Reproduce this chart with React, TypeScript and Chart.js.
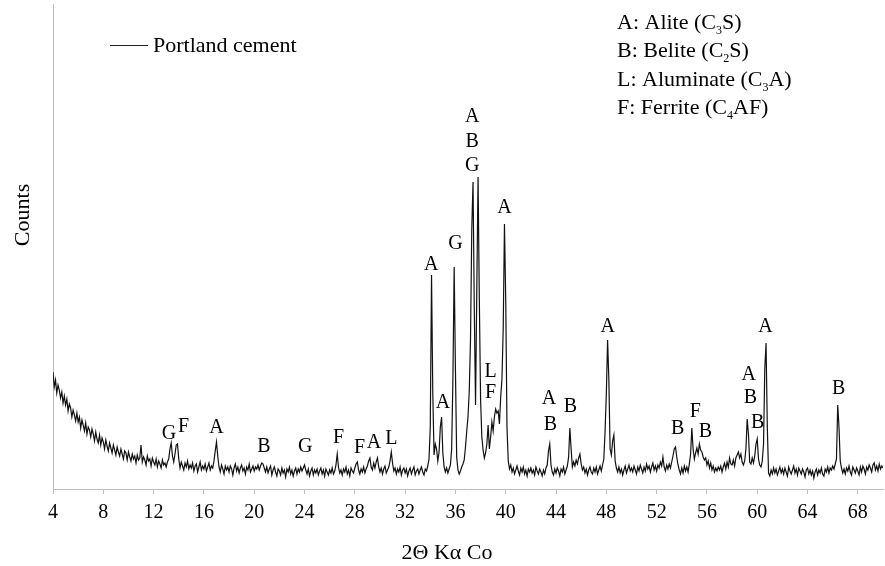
import React, { useEffect, useRef } from "react";
import { Chart, registerables } from "chart.js";

Chart.register(...registerables);

// Diffraction pattern sampled every 0.1° from 4° to 70° (2θ, Co Kα)
const ANGLE_START = 4;
const ANGLE_STEP = 0.1;

const COUNTS: number[] = [
  117, 102, 109, 96, 104, 99, 91, 97, 86, 93, // 4
  84, 90, 78, 85, 81, 72, 79, 74, 68, 76, // 5
  67, 72, 61, 69, 64, 58, 66, 55, 62, 59, // 6
  52, 60, 55, 48, 57, 50, 46, 54, 44, 51, // 7
  47, 40, 49, 43, 38, 46, 41, 36, 44, 39, // 8
  34, 42, 37, 33, 40, 35, 30, 38, 36, 29, // 9
  37, 32, 28, 35, 30, 33, 26, 34, 29, 31, // 10
  44, 27, 32, 29, 24, 33, 28, 30, 23, 31, // 11
  27, 24, 30, 22, 28, 25, 21, 29, 24, 26, // 12
  22, 27, 30, 40, 46, 33, 27, 35, 44, 45, // 13
  30, 21, 27, 23, 19, 26, 22, 28, 20, 24, // 14
  21, 26, 18, 23, 25, 17, 22, 27, 19, 23, // 15
  20, 25, 18, 22, 26, 19, 23, 21, 28, 38, // 16
  47, 33, 22, 17, 24, 20, 15, 23, 19, 22, // 17
  17, 23, 20, 14, 21, 25, 18, 22, 16, 21, // 18
  24, 18, 21, 15, 22, 19, 25, 17, 20, 23, // 19
  18, 22, 20, 24, 19, 23, 26, 25, 21, 17, // 20
  22, 16, 20, 23, 14, 19, 22, 17, 13, 20, // 21
  18, 14, 21, 16, 19, 12, 20, 17, 22, 15, // 22
  19, 13, 18, 21, 15, 20, 17, 22, 18, 21, // 23
  24, 19, 15, 20, 13, 18, 21, 14, 19, 16, // 24
  20, 14, 18, 21, 15, 19, 13, 20, 17, 14, // 25
  19, 16, 21, 15, 18, 24, 35, 22, 16, 19, // 26
  14, 20, 17, 22, 15, 19, 13, 21, 18, 16, // 27
  21, 25, 27, 19, 15, 20, 17, 22, 16, 20, // 28
  23, 28, 31, 22, 19, 26, 21, 27, 31, 22, // 29
  17, 21, 15, 20, 23, 16, 19, 22, 28, 37, // 30
  26, 18, 21, 15, 20, 17, 22, 14, 19, 21, // 31
  16, 20, 13, 18, 21, 15, 19, 22, 14, 18, // 32
  20, 15, 19, 22, 17, 14, 20, 18, 23, 30, // 33
  62, 214, 96, 34, 45, 40, 28, 37, 62, 72, // 34
  36, 22, 17, 21, 16, 20, 24, 40, 110, 222, // 35
  120, 32, 19, 15, 18, 22, 25, 29, 42, 58, // 36
  72, 98, 150, 260, 307, 180, 84, 200, 312, 190, // 37
  90, 52, 39, 31, 36, 45, 64, 40, 52, 67, // 38
  58, 72, 80, 76, 78, 65, 92, 110, 160, 265, // 39
  190, 62, 28, 20, 24, 17, 21, 15, 19, 23, // 40
  18, 14, 21, 17, 22, 15, 19, 13, 20, 17, // 41
  21, 16, 19, 14, 22, 18, 15, 20, 17, 13, // 42
  19, 15, 21, 24, 38, 45, 24, 17, 14, 20, // 43
  16, 21, 18, 13, 20, 17, 22, 15, 19, 23, // 44
  32, 61, 40, 22, 27, 23, 29, 25, 31, 35, // 45
  25, 19, 22, 16, 20, 14, 19, 22, 17, 15, // 46
  21, 17, 22, 15, 19, 23, 18, 24, 30, 58, // 47
  95, 149, 110, 40, 34, 48, 54, 28, 21, 17, // 48
  22, 16, 20, 14, 19, 23, 16, 20, 24, 18, // 49
  21, 17, 23, 19, 15, 22, 18, 24, 20, 16, // 50
  22, 18, 25, 20, 23, 17, 22, 26, 19, 23, // 51
  18, 24, 21, 27, 23, 32, 22, 18, 24, 20, // 52
  25, 21, 27, 33, 40, 42, 32, 24, 19, 15, // 53
  21, 16, 23, 18, 22, 17, 25, 35, 61, 40, // 54
  30, 36, 41, 35, 45, 39, 37, 32, 29, 31, // 55
  24, 28, 21, 26, 19, 23, 17, 21, 18, 22, // 56
  19, 23, 17, 22, 26, 20, 27, 22, 31, 25, // 57
  24, 29, 23, 31, 34, 37, 31, 35, 27, 24, // 58
  28, 40, 70, 55, 27, 25, 31, 26, 33, 45, // 59
  50, 30, 24, 22, 28, 45, 120, 146, 62, 16, // 60
  13, 19, 15, 21, 16, 20, 14, 18, 22, 16, // 61
  20, 15, 21, 17, 13, 22, 18, 15, 19, 23, // 62
  16, 20, 14, 21, 18, 15, 20, 17, 12, 19, // 63
  21, 15, 19, 14, 18, 11, 17, 20, 14, 19, // 64
  16, 21, 15, 13, 20, 17, 22, 16, 21, 19, // 65
  23, 20, 25, 30, 84, 62, 28, 21, 16, 20, // 66
  15, 21, 18, 23, 17, 14, 22, 19, 16, 21, // 67
  18, 14, 22, 17, 23, 20, 15, 22, 19, 24, // 68
  21, 17, 24, 26, 19, 23, 18, 25, 20, 23, // 69
  21, // 70
];

// Phase labels: [2θ, counts level, phase letter]
const PEAK_LABELS: [number, number, string][] = [
  [13.22, 55, "G"], [14.39, 62, "F"], [16.99, 61, "A"], [20.77, 42, "B"],
  [24.06, 42, "G"], [26.71, 51, "F"], [28.38, 41, "F"], [29.52, 46, "A"],
  [30.9, 50, "L"], [34.08, 224, "A"], [35.0, 86, "A"], [36.01, 245, "G"],
  [37.34, 372, "A"], [37.34, 347, "B"], [37.34, 323, "G"], [38.8, 117, "L"],
  [38.8, 96, "F"], [39.91, 281, "A"], [43.43, 90, "A"], [43.56, 64, "B"],
  [45.15, 82, "B"], [48.12, 162, "A"], [53.68, 60, "B"], [55.07, 77, "F"],
  [55.88, 57, "B"], [59.33, 114, "A"], [59.46, 91, "B"], [60.04, 66, "B"],
  [60.65, 162, "A"], [66.48, 100, "B"],
];

const X_MIN = 4;
const X_MAX = 70;
const X_STEP = 4;
const Y_MAX = 485;

const SERIES_NAME = "Portland cement";
const X_TITLE = "2Θ Kα Co";
const Y_TITLE = "Counts";

// Phase key: pieces of each line, subscripts flagged
const PHASE_KEY: { t: string; sub?: boolean }[][] = [
  [{ t: "A: Alite (C" }, { t: "3", sub: true }, { t: "S)" }],
  [{ t: "B: Belite (C" }, { t: "2", sub: true }, { t: "S)" }],
  [{ t: "L: Aluminate (C" }, { t: "3", sub: true }, { t: "A)" }],
  [{ t: "F: Ferrite (C" }, { t: "4", sub: true }, { t: "AF)" }],
];

const SERIF = "'Liberation Serif', 'Times New Roman', serif";
const AXIS_GREY = "#bfbfbf";

const decorations = {
  id: "decorations",
  afterDatasetsDraw(chart: any) {
    const { ctx, chartArea, scales } = chart;
    const xs = scales.x;
    const ys = scales.y;
    ctx.save();
    ctx.fillStyle = "#000";

    // phase letters above the peaks
    ctx.font = `20px ${SERIF}`;
    ctx.textAlign = "center";
    ctx.textBaseline = "middle";
    for (const [t, c, s] of PEAK_LABELS) {
      ctx.fillText(s, xs.getPixelForValue(t), ys.getPixelForValue(c));
    }

    // series key
    ctx.strokeStyle = "#222";
    ctx.lineWidth = 1;
    ctx.beginPath();
    ctx.moveTo(110, 45.5);
    ctx.lineTo(148, 45.5);
    ctx.stroke();
    ctx.font = `22px ${SERIF}`;
    ctx.textAlign = "left";
    ctx.textBaseline = "middle";
    ctx.fillText(SERIES_NAME, 153, 46);

    // phase key with subscripts
    ctx.textBaseline = "alphabetic";
    PHASE_KEY.forEach((line, i) => {
      let x = 617;
      const base = 29 + i * 28.4;
      for (const piece of line) {
        if (piece.sub) {
          ctx.font = `12px ${SERIF}`;
          ctx.fillText(piece.t, x, base + 5);
        } else {
          ctx.font = `22px ${SERIF}`;
          ctx.fillText(piece.t, x, base);
        }
        x += ctx.measureText(piece.t).width;
      }
    });

    // axis titles
    ctx.font = `22px ${SERIF}`;
    ctx.textAlign = "center";
    ctx.textBaseline = "middle";
    ctx.fillText(X_TITLE, 447, 553);
    ctx.translate(23, chartArea.top + (chartArea.bottom - chartArea.top) * 0.435);
    ctx.rotate(-Math.PI / 2);
    ctx.fillText(Y_TITLE, 0, 0);
    ctx.restore();
  },
};

export default function App() {
  const canvasRef = useRef<HTMLCanvasElement | null>(null);

  useEffect(() => {
    document.body.style.margin = "0";
    const canvas = canvasRef.current;
    if (!canvas) return;
    const points = COUNTS.map((c, i) => ({
      x: Math.round((ANGLE_START + i * ANGLE_STEP) * 100) / 100,
      y: c,
    }));
    const chart = new Chart(canvas, {
      type: "line",
      data: {
        datasets: [
          {
            label: SERIES_NAME,
            data: points,
            borderColor: "#111",
            borderWidth: 1.2,
            pointRadius: 0,
            tension: 0,
            fill: false,
          },
        ],
      },
      options: {
        responsive: false,
        animation: false,
        layout: { padding: { left: 0, top: 4, right: 2, bottom: 0 } },
        plugins: { legend: { display: false }, tooltip: { enabled: false } },
        scales: {
          x: {
            type: "linear",
            min: X_MIN,
            max: X_MAX,
            afterFit: (s: any) => {
              s.height = 77;
            },
            ticks: {
              stepSize: X_STEP,
              includeBounds: false,
              autoSkip: false,
              maxRotation: 0,
              color: "#000",
              padding: 7,
              font: { family: SERIF, size: 20 },
            },
            grid: {
              drawOnChartArea: false,
              drawTicks: true,
              tickLength: 5,
              color: AXIS_GREY,
            },
            border: { color: AXIS_GREY, width: 1 },
          },
          y: {
            min: 0,
            max: Y_MAX,
            afterFit: (s: any) => {
              s.width = 53;
            },
            ticks: { display: false },
            grid: { display: false },
            border: { color: AXIS_GREY, width: 1 },
          },
        },
      },
      plugins: [decorations],
    });
    return () => chart.destroy();
  }, []);

  return <canvas ref={canvasRef} width={885} height={566} style={{ display: "block" }} />;
}
